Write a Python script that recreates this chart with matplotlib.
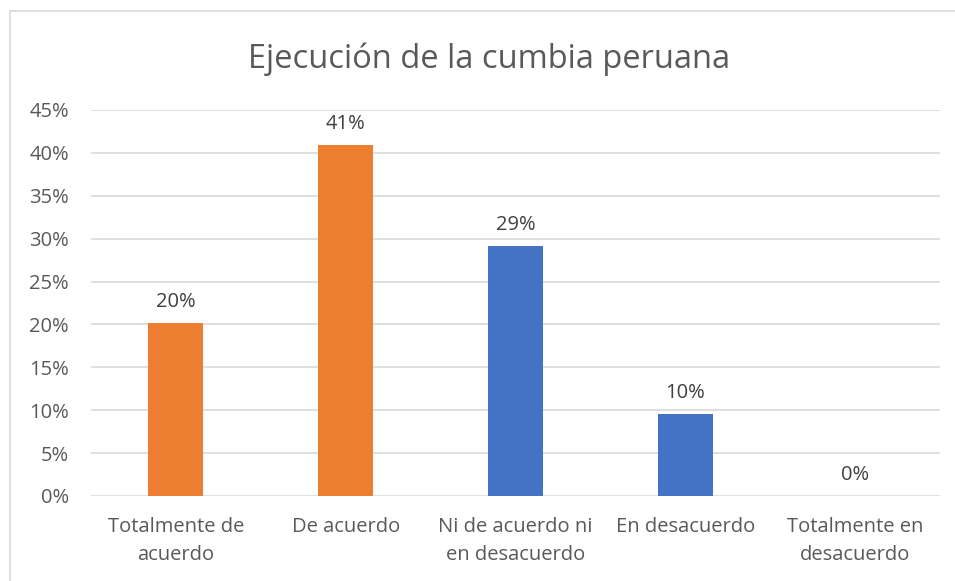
import matplotlib.pyplot as plt
from matplotlib.patches import Rectangle

categorias = ["Totalmente de\nacuerdo", "De acuerdo", "Ni de acuerdo ni\nen desacuerdo",
              "En desacuerdo", "Totalmente en\ndesacuerdo"]
valores = [0.202, 0.409, 0.291, 0.096, 0.0]
etiquetas = ["20%", "41%", "29%", "10%", "0%"]
colores = ["#ED7D31", "#ED7D31", "#4472C4", "#4472C4", "#4472C4"]

plt.rcParams['font.family'] = ['Open Sans', 'DejaVu Sans']
gris = "#595959"

fig = plt.figure(figsize=(9.55, 5.81), dpi=100)
ax = fig.add_axes([0.0953, 0.1463, 0.8890, 0.6644])

# borde del área del gráfico
fig.patches.append(Rectangle((10 / 955, -0.05), 1.1, 1 - 11 / 581 + 0.05,
                             transform=fig.transFigure, fill=False,
                             edgecolor="#D9D9D9", linewidth=1.2))

x = range(len(categorias))
ax.bar(x, valores, width=0.324, color=colores, zorder=3)

for xi, v, t in zip(x, valores, etiquetas):
    ax.annotate(t, (xi, v), xytext=(0, 8), textcoords="offset points",
                ha="center", va="bottom", fontsize=14.5, color="#404040")

ax.set_xlim(-0.5, 4.5)
ax.set_ylim(0, 0.45)
ax.set_yticks([i * 0.05 for i in range(10)])
ax.set_yticklabels([f"{i * 5}%" for i in range(10)])
ax.set_xticks(list(x))
ax.set_xticklabels(categorias, linespacing=1.55)
ax.tick_params(axis="both", length=0, labelsize=14.5, labelcolor=gris)
ax.tick_params(axis="y", pad=16)
ax.tick_params(axis="x", pad=15)
ax.grid(axis="y", color="#D9D9D9", linewidth=1.2, zorder=0)
for s in ax.spines.values():
    s.set_visible(False)

fig.text(0.512, 0.898, "Ejecución de la cumbia peruana", ha="center", va="center",
         fontsize=23.5, color=gris)

fig.savefig("out.png", dpi=100)
